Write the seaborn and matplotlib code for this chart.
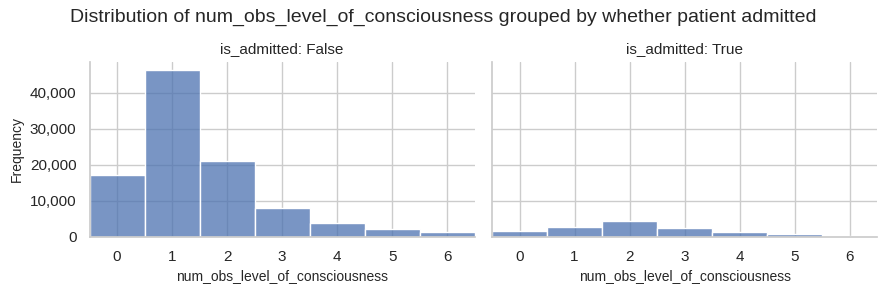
import matplotlib
matplotlib.use("Agg")
import matplotlib.pyplot as plt
import matplotlib.ticker as mticker
import seaborn as sns
import pandas as pd

levels = [0, 1, 2, 3, 4, 5, 6]
counts_false = [17100, 46300, 21000, 8100, 3900, 2200, 1350]
counts_true = [1600, 2750, 4400, 2450, 1350, 800, 200]

df = pd.DataFrame({
    "num_obs_level_of_consciousness": levels * 2,
    "count": counts_false + counts_true,
    "is_admitted": [False] * len(levels) + [True] * len(levels),
})

sns.set_theme(style="whitegrid")
plt.rcParams["font.family"] = ["Liberation Sans", "DejaVu Sans"]
g = sns.displot(
    data=df, x="num_obs_level_of_consciousness", weights="count",
    col="is_admitted", discrete=True, height=2.94, aspect=1.5,
)
g.figure.set_size_inches(8.87, 2.94)
g.set_titles("{col_var}: {col_name}")
g.set_axis_labels("num_obs_level_of_consciousness", "Frequency", fontsize=10)
for ax in g.axes.flat:
    ax.yaxis.set_major_formatter(mticker.StrMethodFormatter("{x:,.0f}"))
    ax.set_xticks(levels)
    ax.set_xlim(-0.5, 6.5)
    ax.title.set_fontsize(11)
g.figure.suptitle("Distribution of num_obs_level_of_consciousness grouped by whether patient admitted",
                  fontsize=14, y=0.97)
g.figure.subplots_adjust(left=0.101, right=0.989, bottom=0.195, top=0.79, wspace=0.045)
g.figure.savefig("out.png", dpi=100)
